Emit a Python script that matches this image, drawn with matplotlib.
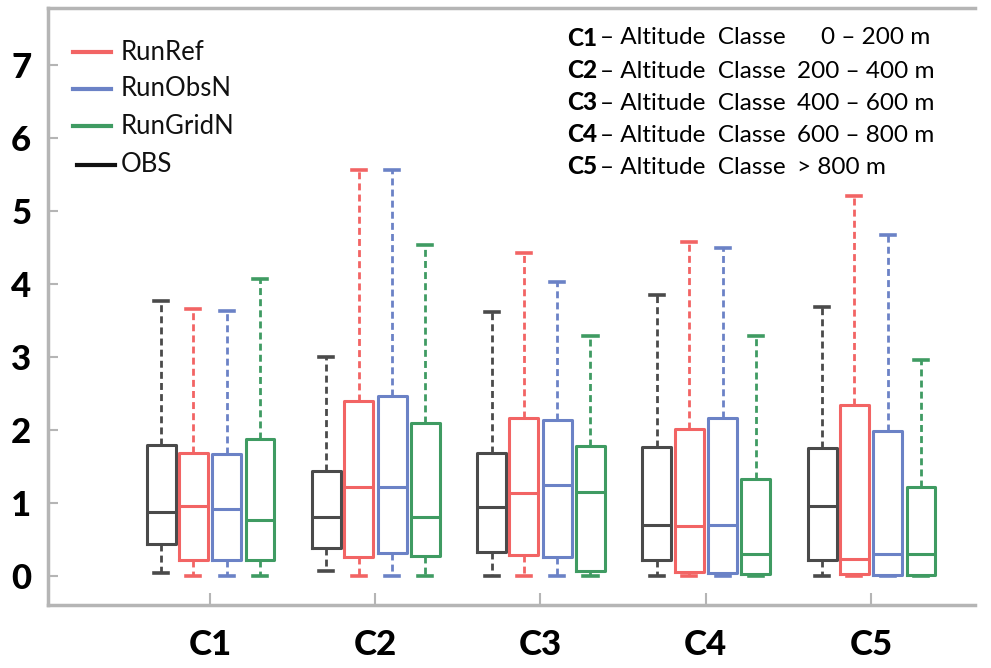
import matplotlib
matplotlib.use("Agg")
import matplotlib.pyplot as plt

# ---------------- data ----------------
categories = ["C1", "C2", "C3", "C4", "C5"]
series = ["OBS", "RunRef", "RunObsN", "RunGridN"]

obs_lo  = [0.04, 0.06, 0.00, 0.00, 0.00]
obs_q1  = [0.44, 0.38, 0.33, 0.21, 0.21]
obs_med = [0.88, 0.80, 0.94, 0.70, 0.96]
obs_q3  = [1.79, 1.43, 1.68, 1.77, 1.75]
obs_hi  = [3.76, 3.00, 3.61, 3.85, 3.68]

ref_lo  = [0.00, 0.00, 0.00, 0.00, 0.00]
ref_q1  = [0.21, 0.26, 0.29, 0.05, 0.02]
ref_med = [0.96, 1.21, 1.13, 0.68, 0.23]
ref_q3  = [1.68, 2.40, 2.16, 2.01, 2.34]
ref_hi  = [3.66, 5.56, 4.42, 4.57, 5.21]

obn_lo  = [0.00, 0.00, 0.00, 0.00, 0.00]
obn_q1  = [0.21, 0.31, 0.26, 0.04, 0.01]
obn_med = [0.91, 1.22, 1.25, 0.70, 0.30]
obn_q3  = [1.67, 2.46, 2.13, 2.16, 1.98]
obn_hi  = [3.63, 5.56, 4.02, 4.49, 4.67]

grd_lo  = [0.00, 0.00, 0.00, 0.00, 0.00]
grd_q1  = [0.21, 0.27, 0.07, 0.03, 0.01]
grd_med = [0.77, 0.81, 1.15, 0.30, 0.30]
grd_q3  = [1.88, 2.09, 1.78, 1.32, 1.21]
grd_hi  = [4.06, 4.53, 3.29, 3.29, 2.96]

y_ticks = [0, 1, 2, 3, 4, 5, 6, 7]
class_texts = [("C1", "\u2013 Altitude  Classe", "0 \u2013 200 m"),
               ("C2", "\u2013 Altitude  Classe", "200 \u2013 400 m"),
               ("C3", "\u2013 Altitude  Classe", "400 \u2013 600 m"),
               ("C4", "\u2013 Altitude  Classe", "600 \u2013 800 m"),
               ("C5", "\u2013 Altitude  Classe", "> 800 m")]

# ---------------- style ----------------
colors = {"OBS": "#4a4a4a", "RunRef": "#f26464", "RunObsN": "#6b82c6", "RunGridN": "#3f9b62"}
offsets = {"OBS": -0.295, "RunRef": -0.10, "RunObsN": 0.103, "RunGridN": 0.303}
data = {
    "OBS": (obs_lo, obs_q1, obs_med, obs_q3, obs_hi),
    "RunRef": (ref_lo, ref_q1, ref_med, ref_q3, ref_hi),
    "RunObsN": (obn_lo, obn_q1, obn_med, obn_q3, obn_hi),
    "RunGridN": (grd_lo, grd_q1, grd_med, grd_q3, grd_hi),
}

W, H = 991, 668
fig = plt.figure(figsize=(W / 100, H / 100), dpi=100)
ax = fig.add_axes([48 / W, 1 - 605 / H, (975 - 48) / W, (605 - 8) / H])

base = list(range(1, len(categories) + 1))
for s in series:
    lo, q1, med, q3, hi = data[s]
    stats = [dict(whislo=lo[i], q1=q1[i], med=med[i], q3=q3[i], whishi=hi[i], fliers=[])
             for i in range(len(categories))]
    pos = [b + offsets[s] for b in base]
    c = colors[s]
    ax.bxp(stats, positions=pos, widths=0.175, showfliers=False, manage_ticks=False,
           boxprops=dict(color=c, lw=2.2),
           whiskerprops=dict(color=c, lw=2.0, linestyle=(0, (2.5, 1.5))),
           capprops=dict(color=c, lw=2.6),
           medianprops=dict(color=c, lw=2.2),
           capwidths=0.085)

ax.set_xlim(0.02, 5.63)
ax.set_ylim(-0.40, 7.78)

spine_c = "#b5b5b5"
for side in ["left", "top", "bottom"]:
    ax.spines[side].set_color(spine_c)
    ax.spines[side].set_linewidth(2.5)
ax.spines["right"].set_visible(False)

tick_font = ["Lato", "DejaVu Sans"]
ax.set_yticks(y_ticks)
ax.set_yticklabels([str(v) for v in y_ticks], fontsize=25, fontweight="black", family=tick_font)
ax.tick_params(axis="y", direction="in", length=7, width=1.5, color=spine_c, pad=12)

ax.set_xticks(base)
ax.set_xticklabels(categories, fontsize=25, fontweight="black", family=tick_font)
ax.tick_params(axis="x", direction="in", length=9, width=1.5, color=spine_c, pad=17)

# legend drawn as lines + text
leg_font = ["Lato", "DejaVu Sans"]
leg_y = [52, 89, 126, 165]
leg_series = ["RunRef", "RunObsN", "RunGridN", "OBS"]
leg_x0 = [73, 73, 73, 77]
for name, yp, x0 in zip(leg_series, leg_y, leg_x0):
    fy = 1 - yp / H
    lc = colors[name] if name != "OBS" else "#111111"
    fig.add_artist(plt.Line2D([x0 / W, (x0 + 38) / W], [fy, fy], color=lc, lw=3))
    fig.text(121 / W, fy, name, fontsize=18.5, family=leg_font, va="center", ha="left", color="#111111")

# class description block
txt_y = [38, 71, 103, 135, 167]
for (cl, mid, rng), yp in zip(class_texts, txt_y):
    fy = 1 - yp / H
    fig.text(567 / W, fy, cl, fontsize=17.5, fontweight="black", family=leg_font, va="center", ha="left")
    fig.text(600 / W, fy, mid, fontsize=17.5, family=leg_font, va="center", ha="left")
    if rng.startswith("0 "):
        fig.text(930 / W, fy, rng, fontsize=17.5, family=leg_font, va="center", ha="right")
    else:
        fig.text(797 / W, fy, rng, fontsize=17.5, family=leg_font, va="center", ha="left")

fig.savefig("out.png", dpi=100)
